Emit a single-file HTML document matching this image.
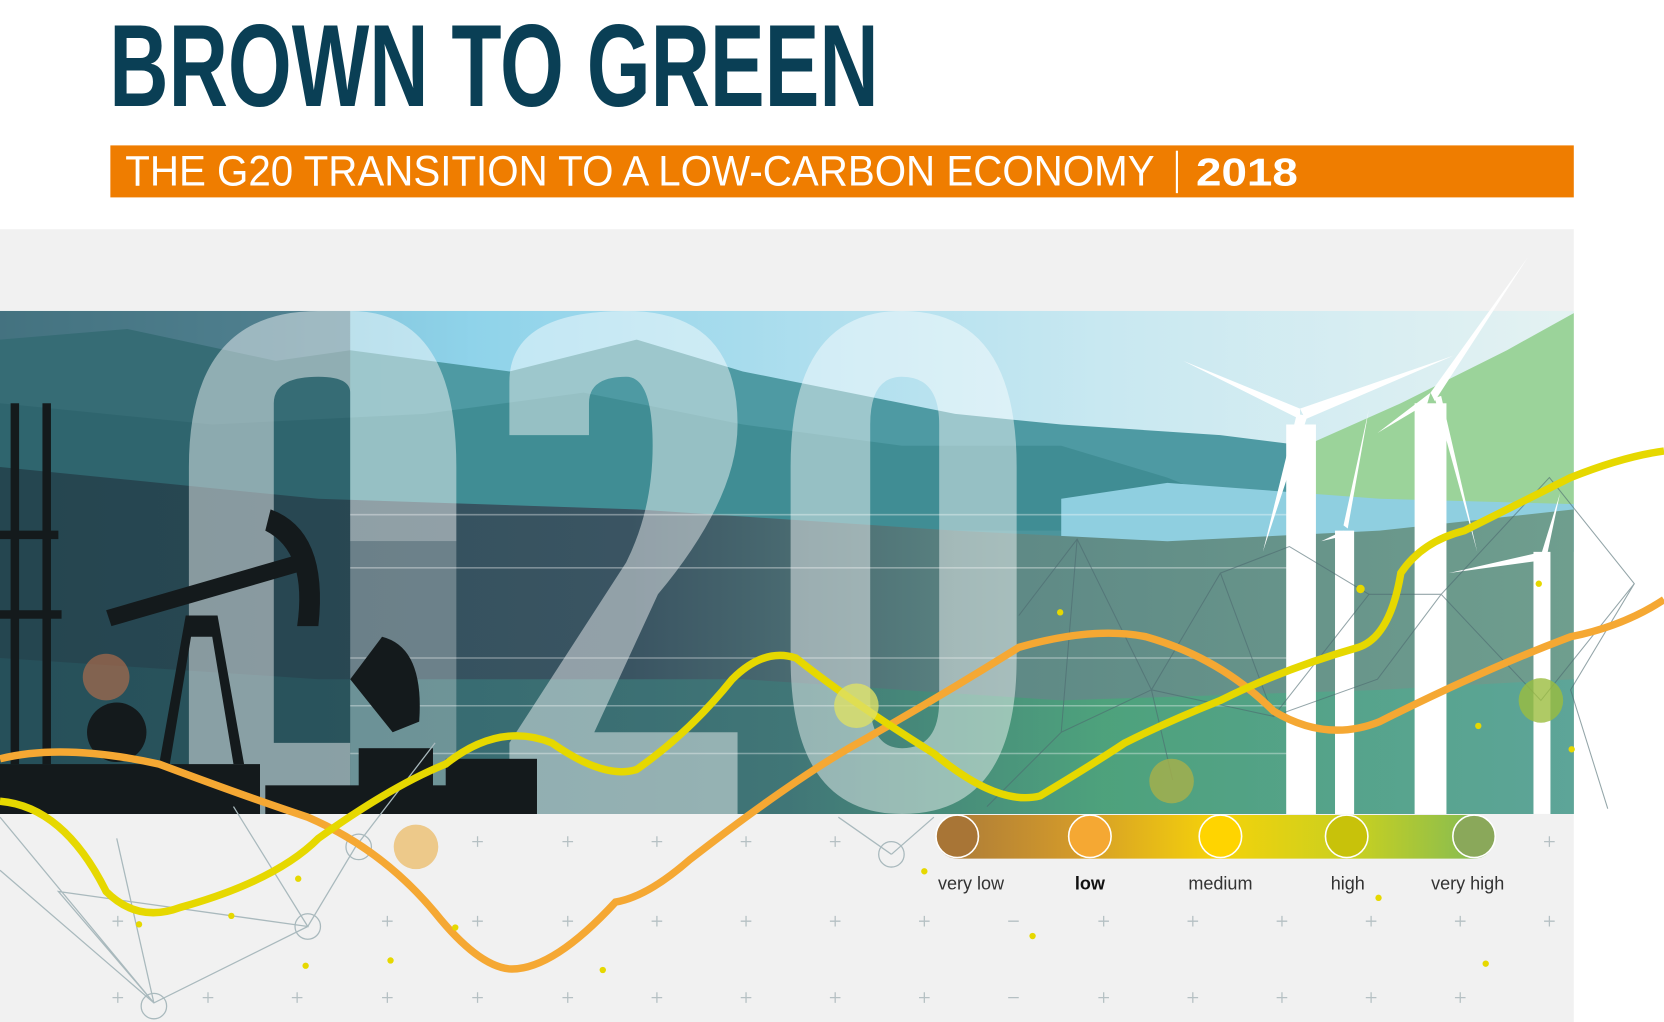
<!DOCTYPE html>
<html><head><meta charset="utf-8"><style>html,body{margin:0;padding:0;background:#fff}svg{display:block}</style></head><body>
<svg width="1664" height="1022" viewBox="0 0 1568 963" preserveAspectRatio="none" xmlns="http://www.w3.org/2000/svg">
<defs>
<linearGradient id="sky" x1="0" y1="0" x2="1" y2="0"><stop offset="0" stop-color="#6aa7b8"/><stop offset="0.3" stop-color="#8fd3ea"/><stop offset="0.7" stop-color="#c8e8f1"/><stop offset="1" stop-color="#e4f2f2"/></linearGradient>
<linearGradient id="ground" x1="0" y1="0" x2="1" y2="0"><stop offset="0" stop-color="#2c4e58"/><stop offset="0.4" stop-color="#3a5462"/><stop offset="0.65" stop-color="#5f8a86"/><stop offset="1" stop-color="#6f9e8e"/></linearGradient>
<linearGradient id="low" x1="0" y1="0" x2="1" y2="0"><stop offset="0" stop-color="#2f6670"/><stop offset="0.5" stop-color="#3f7878"/><stop offset="0.7" stop-color="#4aa57a"/><stop offset="1" stop-color="#5aa69a"/></linearGradient>
<linearGradient id="leg" x1="0" y1="0" x2="1" y2="0"><stop offset="0" stop-color="#a9793a"/><stop offset="0.25" stop-color="#d39a2a"/><stop offset="0.5" stop-color="#f5d20a"/><stop offset="0.75" stop-color="#c8d020"/><stop offset="1" stop-color="#7cb95a"/></linearGradient>
</defs>
<rect width="1568" height="963" fill="#fff"/>
<text x="103" y="100" font-family="Liberation Sans Narrow, Liberation Sans, sans-serif" font-weight="bold" font-size="110" fill="#0a3f55" textLength="725" lengthAdjust="spacingAndGlyphs">BROWN TO GREEN</text>
<rect x="104" y="137" width="1379" height="49" fill="#ef7d00"/>
<text x="118" y="175" font-family="Liberation Sans Narrow, Liberation Sans, sans-serif" font-size="40" fill="#fff" textLength="970" lengthAdjust="spacingAndGlyphs">THE G20 TRANSITION TO A LOW-CARBON ECONOMY</text>
<rect x="1108" y="142" width="2" height="40" fill="#fff"/>
<text x="1127" y="175" font-family="Liberation Sans, sans-serif" font-weight="bold" font-size="37" fill="#fff" textLength="96" lengthAdjust="spacingAndGlyphs">2018</text>
<rect x="0" y="216" width="1483" height="747" fill="#f1f1f1"/>
<rect x="0" y="293" width="1483" height="474" fill="url(#sky)"/>
<path d="M0 320 L120 310 L260 340 L330 330 L480 350 L600 320 L700 350 L800 370 L900 390 L1000 400 L1150 410 L1230 420 L1230 500 L0 500Z" fill="#4e9aa3"/>
<path d="M0 380 L200 400 L400 390 L550 370 L700 400 L850 420 L1000 420 L1100 450 L1150 470 L1230 490 L1230 520 L0 520Z" fill="#3f8c92" opacity="0.9"/>
<path d="M1230 420 L1320 380 L1420 330 L1483 295 L1483 480 L1230 480Z" fill="#9bd39a"/>
<path d="M1000 470 L1100 455 L1300 470 L1483 475 L1483 520 L1000 520Z" fill="#8fcfe0"/>
<path d="M0 440 L300 470 L600 480 L900 500 L1100 510 L1300 500 L1483 480 L1483 767 L0 767Z" fill="url(#ground)"/>
<path d="M0 620 L300 640 L700 640 L1000 660 L1300 650 L1483 640 L1483 767 L0 767Z" fill="url(#low)" opacity="0.85"/>
<path d="M0 293 L330 293 L330 767 L0 767Z" fill="#1e3d48" opacity="0.5"/>
<g fill="#ffffff" opacity="0.45">
<path d="M178 767 L178 440 Q178 293 300 293 L330 293 Q430 293 430 440 L430 510 L330 510 L330 370 Q330 355 300 355 Q258 355 258 380 L258 700 L330 700 L330 767Z"/>
<path d="M330 510 L430 510 L430 767 L330 767Z" opacity="0.6"/>
<path d="M480 360 Q480 293 590 293 Q695 293 695 400 Q695 470 620 560 L560 690 L695 690 L695 767 L480 767 L480 700 L590 530 Q615 480 615 420 Q615 355 590 355 Q555 355 555 380 L555 410 L480 410Z"/>
<path d="M745 440 Q745 293 850 293 Q958 293 958 440 L958 620 Q958 767 850 767 Q745 767 745 620Z M820 400 L820 660 Q820 705 850 705 Q885 705 885 660 L885 400 Q885 355 850 355 Q820 355 820 400Z" fill-rule="evenodd"/>
</g>
<g stroke="#fff" stroke-width="1.5" opacity="0.35"><line x1="330" y1="485" x2="1230" y2="485"/><line x1="330" y1="535" x2="1230" y2="535"/><line x1="330" y1="620" x2="1230" y2="620"/><line x1="330" y1="665" x2="1230" y2="665"/><line x1="330" y1="710" x2="1230" y2="710"/></g>
<g fill="#141a1c">
<rect x="0" y="720" width="245" height="47"/>
<rect x="250" y="740" width="256" height="27"/>
<rect x="338" y="705" width="70" height="40"/>
<rect x="420" y="715" width="86" height="30"/>
<rect x="0" y="500" width="55" height="8"/><rect x="0" y="575" width="58" height="8"/>
<rect x="10" y="380" width="8" height="340"/><rect x="40" y="380" width="8" height="340"/>
<path d="M100 575 L290 520 L295 535 L105 590Z"/>
<path d="M175 580 L150 720 L160 720 L180 600 L200 600 L220 720 L230 720 L205 580Z"/>
<path d="M255 480 Q310 500 300 590 L280 590 Q290 520 250 500Z"/>
<circle cx="110" cy="690" r="28"/>
<path d="M330 640 L360 600 Q400 610 395 680 L370 690Z"/>
</g>
<circle cx="100" cy="638" r="22" fill="#c0704a" opacity="0.6"/>
<g fill="#fff">
<rect x="1212" y="400" width="28" height="367"/>
<path d="M1225 385 L1115 340 L1225 395Z"/><path d="M1225 385 L1370 335 L1230 395Z"/><path d="M1222 390 L1190 520 L1232 392Z"/>
<rect x="1333" y="380" width="30" height="387"/>
<path d="M1348 370 L1440 242 L1352 378Z"/><path d="M1348 370 L1298 408 L1345 380Z"/><path d="M1352 375 L1392 520 L1358 373Z"/>
<rect x="1258" y="500" width="18" height="267"/>
<path d="M1266 495 L1290 385 L1270 498Z"/><path d="M1266 500 L1245 510 L1266 505Z"/>
<rect x="1445" y="520" width="16" height="247"/>
<path d="M1453 520 L1365 540 L1453 528Z"/><path d="M1453 520 L1470 465 L1458 522Z"/>
</g>
<g stroke="#4d6a70" stroke-width="1" fill="none" opacity="0.6">
<path d="M960 580 L1015 508 L1085 650 L1150 540 L1215 515 L1290 560 L1358 560 L1460 450 L1540 550 L1480 650 L1515 762"/>
<path d="M1000 690 L1085 650 L1200 675 L1298 640 L1358 560 L1452 660 L1540 550"/>
<path d="M1015 508 L1000 690 L930 760 M1150 540 L1200 675 L1290 560 M1085 650 L1105 735"/>
</g>
<g stroke="#a9b9bd" stroke-width="1.2" fill="none">
<path d="M0 820 L145 945 L290 873 L335 798 L410 700 M0 770 L145 945 L55 840 L290 873 L220 760 M145 945 L110 790 M840 805 L790 770 M840 805 L880 770"/>
<circle cx="145" cy="948" r="12"/><circle cx="290" cy="873" r="12"/><circle cx="338" cy="798" r="12"/><circle cx="840" cy="805" r="12"/>
</g>
<g stroke="#b5c0c3" stroke-width="1.2">
<path d="M445 793h10M450 788v10 M530 793h10M535 788v10 M614 793h10M619 788v10 M698 793h10M703 788v10 M782 793h10M787 788v10 M1455 793h10M1460 788v10"/>
<path d="M106 868h10M111 863v10 M360 868h10M365 863v10 M445 868h10M450 863v10 M530 868h10M535 863v10 M614 868h10M619 863v10 M698 868h10M703 863v10 M782 868h10M787 863v10 M866 868h10M871 863v10 M950 868h10M1035 868h10M1040 863v10 M1119 868h10M1124 863v10 M1203 868h10M1208 863v10 M1287 868h10M1292 863v10 M1371 868h10M1376 863v10 M1455 868h10M1460 863v10"/>
<path d="M106 940h10M111 935v10 M191 940h10M196 935v10 M275 940h10M280 935v10 M360 940h10M365 935v10 M445 940h10M450 935v10 M530 940h10M535 935v10 M614 940h10M619 935v10 M698 940h10M703 935v10 M782 940h10M787 935v10 M866 940h10M871 935v10 M950 940h10M1035 940h10M1040 935v10 M1119 940h10M1124 935v10 M1203 940h10M1208 935v10 M1287 940h10M1292 935v10 M1371 940h10M1376 935v10"/>
</g>
<path d="M0 715 Q60 700 150 720 Q230 750 290 770 Q360 800 410 860 Q450 910 480 913 Q520 915 580 850 Q610 845 650 810 Q740 740 800 705 Q880 660 960 610 Q1030 590 1080 600 Q1150 620 1200 670 Q1250 700 1300 680 Q1400 630 1480 600 Q1530 590 1568 565" fill="none" stroke="#f5a833" stroke-width="7"/>
<path d="M0 755 Q60 760 100 840 Q130 870 170 855 Q260 830 300 790 Q370 740 420 720 Q470 680 520 700 Q570 735 600 725 Q650 690 690 640 Q720 610 750 620 Q800 660 880 710 Q940 760 980 750 Q1030 720 1060 700 Q1100 680 1150 660 Q1210 630 1280 610 Q1310 600 1320 540 Q1340 510 1380 500 Q1440 470 1480 450 Q1530 430 1568 425" fill="none" stroke="#e6d800" stroke-width="7"/>
<circle cx="392" cy="798" r="21" fill="#edc98a"/>
<circle cx="807" cy="665" r="21" fill="#dde066" opacity="0.8"/>
<circle cx="1104" cy="736" r="21" fill="#a7b04a" opacity="0.8"/>
<circle cx="1452" cy="660" r="21" fill="#9bbd3e" opacity="0.8"/>
<g fill="#e6d800"><circle cx="999" cy="577" r="3"/><circle cx="1282" cy="555" r="4"/><circle cx="1393" cy="684" r="3"/><circle cx="973" cy="882" r="3"/><circle cx="1400" cy="908" r="3"/><circle cx="1299" cy="846" r="3"/><circle cx="568" cy="914" r="3"/><circle cx="368" cy="905" r="3"/><circle cx="288" cy="910" r="3"/><circle cx="429" cy="874" r="3"/><circle cx="131" cy="871" r="3"/><circle cx="218" cy="863" r="3"/><circle cx="281" cy="828" r="3"/><circle cx="1481" cy="706" r="3"/><circle cx="871" cy="821" r="3"/><circle cx="1450" cy="550" r="3"/></g>
<rect x="882" y="768" width="527" height="41" rx="20" fill="url(#leg)"/>
<g stroke="#fff" stroke-width="1.5"><circle cx="902" cy="788" r="20" fill="#a87536"/><circle cx="1027" cy="788" r="20" fill="#f5a833"/><circle cx="1150" cy="788" r="20" fill="#ffd400"/><circle cx="1269" cy="788" r="20" fill="#c8c20a"/><circle cx="1389" cy="788" r="20" fill="#8aa85a"/></g>
<g font-family="Liberation Sans, sans-serif" font-size="17" fill="#333" text-anchor="middle"><text x="915" y="838">very low</text><text x="1027" y="838" font-weight="bold" fill="#111">low</text><text x="1150" y="838">medium</text><text x="1270" y="838">high</text><text x="1383" y="838">very high</text></g>
</svg>
</body></html>
